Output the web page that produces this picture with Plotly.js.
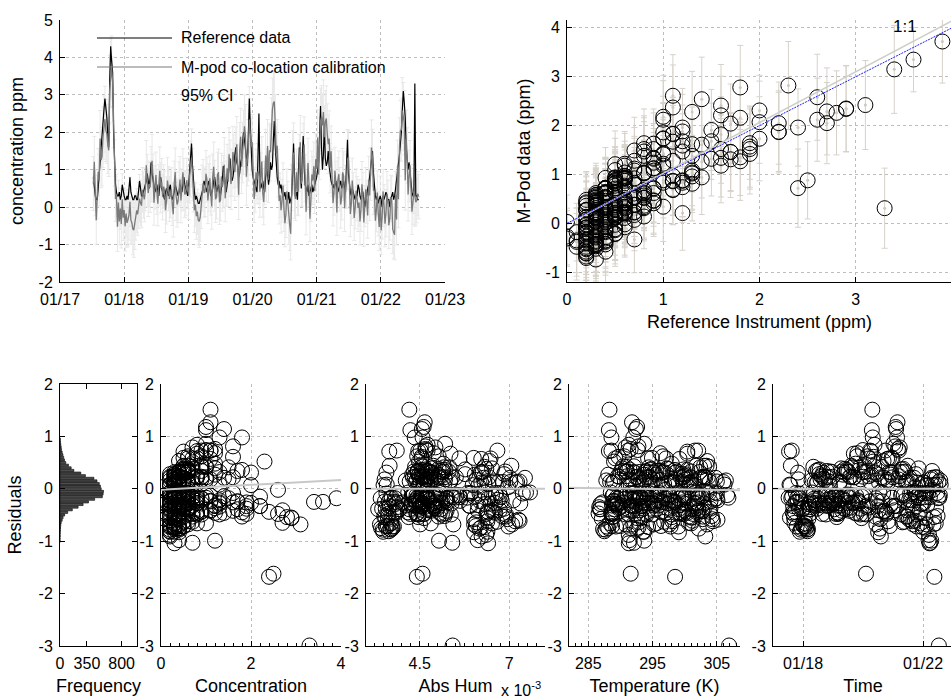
<!DOCTYPE html>
<html><head><meta charset="utf-8">
<script src="https://cdn.plot.ly/plotly-3.0.1.min.js"></script>
<style>html,body{margin:0;padding:0;overflow:hidden;background:#fff;width:951px;height:700px}#chart{width:956px;height:700px}</style>
</head><body><div id="chart"></div>
<script>
// time in days since 01/17 00:00
const timeDays = [
0.520,0.535,0.550,0.565,0.580,0.595,0.610,0.625,0.640,0.655,0.670,0.685,0.700,0.715,0.730,0.745,0.760,0.775,0.790,0.805,
0.820,0.835,0.850,0.865,0.880,0.895,0.910,0.925,0.940,0.955,0.970,0.985,1.000,1.015,1.030,1.045,1.060,1.075,1.090,1.105,
1.120,1.135,1.150,1.165,1.180,1.195,1.210,1.225,1.240,1.255,1.270,1.285,1.300,1.315,1.330,1.345,1.360,1.375,1.390,1.405,
1.420,1.435,1.450,1.465,1.480,1.495,1.510,1.525,1.540,1.555,1.570,1.585,1.600,1.615,1.630,1.645,1.660,1.675,1.690,1.705,
1.720,1.735,1.750,1.765,1.780,1.795,1.810,1.825,1.840,1.855,1.870,1.885,1.900,1.915,1.930,1.945,1.960,1.975,1.990,2.005,
2.020,2.035,2.050,2.065,2.080,2.095,2.110,2.125,2.140,2.155,2.170,2.185,2.200,2.215,2.230,2.245,2.260,2.275,2.290,2.305,
2.320,2.335,2.350,2.365,2.380,2.395,2.410,2.425,2.440,2.455,2.470,2.485,2.500,2.515,2.530,2.545,2.560,2.575,2.590,2.605,
2.620,2.635,2.650,2.665,2.680,2.695,2.710,2.725,2.740,2.755,2.770,2.785,2.800,2.815,2.830,2.845,2.860,2.875,2.890,2.905,
2.920,2.935,2.950,2.965,2.980,2.995,3.010,3.025,3.040,3.055,3.070,3.085,3.100,3.115,3.130,3.145,3.160,3.175,3.190,3.205,
3.220,3.235,3.250,3.265,3.280,3.295,3.310,3.325,3.340,3.355,3.370,3.385,3.400,3.415,3.430,3.445,3.460,3.475,3.490,3.505,
3.520,3.535,3.550,3.565,3.580,3.595,3.610,3.625,3.640,3.655,3.670,3.685,3.700,3.715,3.730,3.745,3.760,3.775,3.790,3.805,
3.820,3.835,3.850,3.865,3.880,3.895,3.910,3.925,3.940,3.955,3.970,3.985,4.000,4.015,4.030,4.045,4.060,4.075,4.090,4.105,
4.120,4.135,4.150,4.165,4.180,4.195,4.210,4.225,4.240,4.255,4.270,4.285,4.300,4.315,4.330,4.345,4.360,4.375,4.390,4.405,
4.420,4.435,4.450,4.465,4.480,4.495,4.510,4.525,4.540,4.555,4.570,4.585,4.600,4.615,4.630,4.645,4.660,4.675,4.690,4.705,
4.720,4.735,4.750,4.765,4.780,4.795,4.810,4.825,4.840,4.855,4.870,4.885,4.900,4.915,4.930,4.945,4.960,4.975,4.990,5.005,
5.020,5.035,5.050,5.065,5.080,5.095,5.110,5.125,5.140,5.155,5.170,5.185,5.200,5.215,5.230,5.245,5.260,5.275,5.290,5.305,
5.320,5.335,5.350,5.365,5.380,5.395,5.410,5.425,5.440,5.455,5.470,5.485,5.500,5.515,5.530,5.545,5.560,5.575,5.590];
const refPpm = [
0.8,0.5,0.3,0.2,0.2,0.5,0.9,1.1,1.4,1.8,2.2,2.6,2.9,2.7,2.4,1.9,1.6,3.4,4.3,3.9,
3.6,2.0,1.0,0.6,0.4,0.3,0.3,0.4,0.2,0.3,0.6,0.4,0.3,0.2,0.2,0.3,0.2,0.5,0.8,0.4,
0.3,0.2,0.2,0.3,0.3,0.2,0.2,0.4,0.7,0.5,0.3,0.3,0.4,0.5,0.6,0.7,0.9,0.6,0.5,0.8,
1.2,0.9,0.7,0.5,0.4,0.5,0.6,0.4,0.3,0.6,0.8,0.5,0.4,0.3,0.2,0.4,0.5,0.4,0.3,0.5,
0.6,0.3,0.2,0.3,0.4,0.6,0.5,0.4,0.3,0.4,0.6,0.5,0.4,0.6,0.8,0.6,0.5,0.4,0.3,0.6,
1.0,1.3,1.7,1.1,0.6,0.4,0.2,0.3,0.2,0.1,0.1,0.2,0.3,0.4,0.5,0.7,0.6,0.5,0.4,0.6,
0.7,0.5,0.3,0.4,0.5,0.7,0.8,0.6,0.4,0.5,0.6,0.4,0.3,0.5,0.7,1.1,0.9,0.6,0.4,0.6,
0.8,1.0,1.3,0.9,0.7,0.8,1.0,1.4,1.6,1.2,1.1,0.8,0.9,1.2,1.3,1.7,2.0,1.8,1.5,1.3,
1.1,1.9,2.9,2.2,1.3,1.0,0.8,0.7,0.6,0.5,0.4,1.3,2.5,0.9,0.5,0.6,0.7,0.5,0.4,0.8,
1.1,0.9,0.6,0.8,1.2,1.0,1.1,1.8,2.3,1.6,1.0,0.8,0.6,0.7,0.5,0.6,0.4,0.3,0.3,0.4,
0.2,0.3,0.2,0.4,0.1,0.2,0.3,0.9,1.7,0.8,0.3,0.4,0.2,0.9,1.6,1.0,0.5,1.2,1.9,1.1,
0.6,0.5,0.4,0.6,0.3,0.4,0.5,0.6,0.4,0.5,0.6,0.7,0.8,1.0,1.2,1.9,2.7,1.6,1.0,1.4,
2.2,1.3,1.1,1.2,1.5,1.1,0.8,0.7,0.6,0.6,0.5,0.6,0.7,0.5,0.4,0.5,0.6,0.7,0.5,0.6,
0.7,0.5,0.4,1.1,1.8,0.9,0.5,0.4,0.3,0.5,0.4,0.3,0.2,0.3,0.3,0.6,0.5,0.3,0.2,0.4,
0.4,0.2,0.0,0.2,0.3,0.5,0.6,0.8,1.0,1.2,1.5,0.9,0.5,0.3,0.2,0.3,0.1,0.2,0.3,0.2,
0.0,0.3,0.2,0.3,0.4,0.3,0.2,0.2,0.0,0.2,0.3,0.4,0.2,0.3,0.5,0.7,0.9,1.2,1.4,1.7,
2.0,2.6,3.1,2.8,2.4,1.6,1.3,1.0,1.2,0.9,0.6,0.4,0.3,0.3,3.3,0.3,0.3,0.2,0.2];
const mpodPpm = [
0.63,1.21,0.38,-0.35,0.27,0.94,0.72,1.83,1.26,1.35,1.87,2.12,2.35,2.05,1.96,1.64,1.52,3.15,3.58,3.72,
3.35,2.31,1.18,0.22,0.31,-0.52,0.12,-0.38,-0.04,-0.45,0.21,-0.28,-0.08,-0.51,-0.17,-0.42,-0.33,-0.21,0.14,-0.35,
-0.42,-0.58,-0.61,-0.47,-0.27,-0.09,-0.19,0.05,0.23,0.11,0.04,0.46,0.33,0.21,0.47,1.12,0.71,0.38,0.62,0.53,
0.88,1.24,0.79,0.12,0.53,0.86,0.41,0.09,0.58,0.97,0.52,0.68,0.27,0.55,0.43,-0.08,0.18,0.71,0.49,0.22,
0.34,0.47,0.08,-0.19,0.63,0.94,0.29,0.07,0.17,0.62,0.74,0.18,0.46,0.93,0.61,0.34,0.37,0.72,0.53,0.31,
0.83,1.02,1.31,0.87,0.48,-0.08,0.07,-0.24,-0.12,-0.35,-0.38,-0.27,0.02,0.51,0.64,0.38,0.41,0.89,0.73,0.18,
0.52,0.77,0.36,0.02,0.81,1.08,0.57,0.21,0.28,0.86,0.93,0.13,0.19,0.82,0.54,0.68,1.13,0.24,0.63,1.04,
0.68,1.41,1.04,0.62,0.92,1.47,1.22,0.94,1.34,1.68,0.97,0.33,1.52,1.88,1.08,1.46,1.73,2.16,1.91,0.81,
1.28,1.52,2.34,2.05,1.62,1.74,1.03,0.22,0.47,0.93,0.72,0.96,0.88,0.41,0.83,1.22,0.38,0.14,0.64,1.38,
0.86,1.63,0.73,1.52,1.47,2.12,2.61,2.78,2.82,2.21,1.43,1.64,0.91,0.17,0.32,-0.08,0.17,0.58,-0.03,-0.43,
-0.21,0.42,0.13,-0.36,-0.48,-0.71,0.52,1.32,1.46,0.36,0.22,0.93,0.41,0.47,1.18,1.73,0.63,0.74,1.42,1.67,
0.77,-0.12,0.53,1.18,0.62,-0.31,0.18,0.87,0.71,1.09,0.43,1.28,1.02,1.86,0.87,1.57,2.29,2.41,2.18,2.54,
1.87,2.28,2.37,1.96,1.68,1.83,1.04,1.49,0.92,0.11,0.38,0.97,0.61,-0.14,0.72,0.88,0.48,0.07,0.27,0.93,
0.83,-0.03,0.54,0.69,1.27,1.34,0.63,-0.18,0.09,0.71,0.31,-0.29,-0.02,0.44,0.23,-0.02,0.12,-0.38,-0.08,0.61,
0.33,-0.41,0.03,0.48,0.14,-0.22,0.72,0.31,0.88,1.59,1.32,0.46,0.42,-0.36,-0.09,0.39,-0.18,-0.53,0.21,-0.62,
-0.27,0.42,0.04,-0.44,-0.16,0.36,0.12,-0.48,-0.31,0.27,0.22,-0.58,-0.68,-0.74,0.34,-0.33,1.08,0.21,1.61,2.04,
2.07,2.58,2.42,2.26,0.72,1.82,1.38,0.34,0.83,1.12,0.52,-0.12,0.12,0.43,0.31,0.13,0.18,0.36,0.28];
const ci95 = [
.72,.68,.61,.64,.58,.63,.69,.75,.74,.78,.81,.85,.88,.83,.79,.74,.70,.90,.92,.85,
.66,.72,.62,.60,.57,.66,.60,.63,.55,.64,.68,.61,.59,.66,.63,.65,.71,.67,.66,.63,
.58,.69,.73,.66,.61,.59,.56,.62,.64,.61,.59,.60,.62,.60,.57,.66,.70,.63,.61,.67,
.74,.70,.63,.60,.58,.61,.60,.59,.55,.64,.67,.62,.61,.58,.54,.60,.63,.62,.59,.60,
.62,.58,.57,.61,.60,.64,.65,.60,.58,.59,.61,.60,.56,.63,.69,.62,.60,.59,.57,.64,
.72,.75,.78,.70,.61,.60,.58,.62,.60,.66,.70,.64,.59,.61,.63,.65,.66,.62,.60,.62,
.64,.60,.57,.61,.61,.66,.68,.62,.59,.61,.62,.59,.56,.62,.65,.70,.73,.63,.60,.64,
.66,.71,.75,.68,.63,.69,.71,.76,.80,.74,.69,.66,.74,.76,.72,.81,.86,.84,.83,.76,
.71,.82,.88,.84,.76,.73,.66,.63,.60,.62,.63,.74,.79,.68,.62,.66,.65,.61,.58,.70,
.70,.71,.61,.68,.77,.80,.84,.86,.90,.80,.73,.70,.64,.62,.59,.61,.57,.60,.62,.63,
.60,.60,.56,.64,.68,.70,.61,.72,.79,.66,.58,.62,.62,.70,.76,.72,.60,.72,.82,.74,
.63,.62,.59,.66,.61,.61,.57,.63,.64,.65,.60,.68,.68,.74,.74,.83,.89,.84,.85,.86,
.84,.83,.87,.80,.78,.74,.66,.68,.63,.61,.59,.63,.62,.62,.60,.62,.58,.63,.61,.64,
.65,.62,.57,.72,.80,.70,.60,.61,.58,.60,.61,.60,.56,.58,.59,.63,.62,.63,.57,.61,
.60,.64,.55,.58,.58,.61,.64,.67,.70,.74,.76,.66,.61,.62,.57,.58,.59,.63,.62,.64,
.58,.59,.56,.62,.63,.59,.60,.63,.57,.58,.61,.66,.69,.67,.62,.68,.71,.76,.78,.81,
.84,.88,.91,.86,.80,.77,.74,.71,.69,.66,.62,.61,.58,.60,.82,.61,.60,.59,.59];
// absolute humidity, in units of 10^-3
const absHum = [
3.72,3.65,3.58,3.54,3.49,3.66,3.81,3.86,3.93,3.78,3.66,3.62,3.61,3.71,3.84,3.87,3.88,3.79,3.74,3.68,
3.63,3.57,3.52,3.55,3.57,3.48,3.41,3.47,3.53,3.42,3.34,3.39,3.45,3.55,3.62,3.57,3.51,3.61,3.69,3.74,
3.78,3.70,3.64,3.68,3.71,3.82,3.92,3.87,3.83,3.94,4.02,4.11,4.18,4.26,4.31,4.37,4.42,4.48,4.53,4.39,
4.27,4.44,4.61,4.49,4.38,4.55,4.72,4.61,4.49,4.66,4.83,4.71,4.58,4.47,4.36,4.63,4.91,4.79,4.67,4.59,
4.52,4.42,4.33,4.48,4.63,4.71,4.79,4.58,4.41,4.31,4.22,4.36,4.47,4.58,4.69,4.49,4.32,4.44,4.56,4.49,
4.43,4.32,4.21,4.38,4.54,4.41,4.28,4.19,4.12,4.17,4.24,4.41,4.59,4.72,4.81,4.93,5.02,4.84,4.68,4.81,
4.93,5.02,5.11,4.97,4.84,5.03,5.23,5.09,4.97,5.14,5.31,5.08,4.89,5.16,5.42,5.25,5.08,4.91,4.73,4.88,
5.04,5.17,5.28,5.39,5.51,5.36,5.19,5.06,4.94,5.16,5.37,5.21,5.03,4.89,4.77,4.96,5.13,5.22,5.33,5.12,
4.92,4.77,4.62,4.72,4.83,4.67,4.51,4.61,4.71,4.57,4.44,4.52,4.58,4.46,4.34,4.43,4.52,4.61,4.69,4.55,
4.41,4.52,4.63,4.46,4.29,4.24,4.21,4.36,4.48,4.55,4.61,4.72,4.82,5.03,5.24,5.44,5.63,5.77,5.91,6.02,
6.12,6.22,6.31,6.17,6.02,6.23,6.43,6.31,6.19,6.41,6.62,6.45,6.28,6.39,6.51,6.67,6.83,6.61,6.37,6.22,
6.08,6.39,6.71,6.48,6.26,6.07,5.88,6.04,6.22,6.01,5.82,5.61,5.41,5.21,5.02,4.86,4.73,4.66,4.61,4.56,
4.52,4.58,4.64,4.66,4.68,4.72,4.79,4.94,5.12,5.37,5.61,5.77,5.93,6.08,6.21,6.36,6.52,6.66,6.79,6.89,
7.03,6.81,6.58,6.74,6.91,7.06,7.22,6.96,6.68,7.02,7.38,7.26,7.12,7.29,7.47,7.17,6.86,7.08,7.31,7.44,
7.58,7.29,6.97,6.86,6.77,6.98,7.18,6.91,6.63,6.52,6.42,6.57,6.72,6.52,6.33,6.41,6.48,6.32,6.17,6.39,
6.61,6.31,6.03,6.21,6.39,6.14,5.92,6.02,6.13,5.98,5.84,6.12,6.36,6.41,5.62,5.41,5.21,5.04,4.88,4.73,
4.62,4.57,4.51,4.46,4.42,4.58,4.72,4.81,4.91,5.02,5.08,5.19,5.27,5.35,5.42,5.48,5.53,5.36,5.18];
const tempK = [
300.0,300.4,300.8,301.2,301.5,301.8,302.0,302.1,302.2,301.9,301.6,301.3,301.0,300.6,300.2,299.6,299.0,298.4,297.8,297.1,
296.5,295.9,295.2,294.6,294.0,293.5,293.0,292.5,292.1,291.6,291.2,290.8,290.4,290.0,289.7,289.3,289.0,288.7,288.4,288.1,
287.9,287.7,287.5,287.3,287.1,286.9,286.8,286.7,286.6,286.9,287.2,287.8,288.5,289.2,290.0,290.9,291.8,292.6,293.5,294.3,
295.2,296.0,296.8,297.4,298.0,298.5,299.0,299.3,299.6,299.8,300.0,300.1,300.2,300.0,299.8,299.4,299.0,298.5,298.0,297.4,
296.8,296.2,295.6,295.0,294.5,294.0,293.6,293.2,292.8,292.4,292.0,291.6,291.3,291.0,290.7,290.4,290.2,290.0,289.8,289.6,
289.4,289.2,289.1,289.0,288.9,288.8,288.8,288.7,288.7,288.6,288.6,288.6,288.7,288.8,289.0,289.3,289.6,290.3,291.0,291.9,
292.8,293.7,294.6,295.6,296.5,297.4,298.2,299.0,299.8,300.4,301.0,301.5,302.0,302.3,302.6,302.8,303.0,303.1,303.1,303.0,
302.8,302.4,302.0,301.5,301.0,300.4,299.8,299.2,298.6,298.0,297.5,297.0,296.6,296.2,295.8,295.4,295.0,294.7,294.4,294.1,
293.8,293.5,293.3,293.1,292.9,292.7,292.6,292.4,292.3,292.1,292.0,291.8,291.6,291.3,291.0,290.6,290.3,289.9,289.6,289.2,
288.9,288.6,288.4,288.2,288.1,288.2,288.3,288.6,289.0,289.7,290.4,291.3,292.2,293.2,294.2,295.2,296.2,297.2,298.2,299.1,
300.0,300.8,301.6,302.2,302.8,303.2,303.6,303.8,304.0,303.9,303.8,303.5,303.2,302.7,302.2,301.6,301.0,300.4,299.8,299.2,
298.6,298.1,297.6,297.1,296.7,296.3,295.9,295.5,295.2,294.9,294.6,294.3,294.0,293.7,293.5,293.2,293.0,292.8,292.6,292.4,
292.2,292.0,291.8,291.6,291.4,291.2,291.0,290.8,290.7,290.8,290.9,291.4,292.0,292.9,293.8,294.8,295.8,296.8,297.8,298.8,
299.7,300.6,301.4,302.1,302.8,303.4,303.9,304.3,304.6,304.8,305.0,305.1,305.1,305.0,304.8,304.4,304.0,303.5,303.0,302.4,
301.8,301.2,300.6,300.0,299.5,299.0,298.5,298.0,297.6,297.2,296.8,296.4,296.0,295.6,295.3,294.9,294.6,294.3,294.0,293.7,
293.5,293.2,293.0,292.8,292.6,292.4,292.2,292.0,291.8,291.6,291.5,291.4,291.3,291.3,291.4,292.1,292.8,293.7,294.6,295.6,
296.5,297.0,297.6,298.0,298.5,299.4,300.2,301.0,301.8,302.6,303.4,304.2,305.0,306.0,306.9,306.8,306.6,306.4,306.2];
// residual histogram
const histBins = [-1.00,-0.95,-0.90,-0.85,-0.80,-0.75,-0.70,-0.65,-0.60,-0.55,-0.50,-0.45,-0.40,-0.35,-0.30,-0.25,-0.20,-0.15,-0.10,-0.05,0.00,0.05,0.10,0.15,0.20,0.25,0.30,0.35,0.40,0.45,0.50,0.55,0.60,0.65,0.70,0.75,0.80,0.85,0.90,0.95];
const histCounts = [1,1,2,3,5,7,10,15,28,40,60,100,160,235,300,370,450,550,560,565,535,525,510,480,440,330,270,180,145,110,75,58,48,38,28,20,15,10,6,3];
// reference / fitted lines
const oneToOneX = [0, 4.2];
const oneToOneY = [-0.02, 4.35];
const fitScatterX = [0, 4.2];
const fitScatterY = [0, 4.2];
const fitConcX = [0, 4];
const fitConcY = [-0.02, 0.17];
const fitHumX = [3, 8];
const fitHumY = [0, 0];
const fitTempX = [282, 308.6];
const fitTempY = [0.02, -0.03];
const fitTimeX = [0, 6];
const fitTimeY = [0, 0];
// tick labels
const dayTickVals = [0, 1, 2, 3, 4, 5, 6];
const dayTickText = ['01/17', '01/18', '01/19', '01/20', '01/21', '01/22', '01/23'];
const resTickVals = [-3, -2, -1, 0, 1, 2];
const resTickText = ['-3', '-2', '-1', '0', '1', '2'];
const concTickVals = [-2, -1, 0, 1, 2, 3, 4, 5];
const concTickText = ['-2', '-1', '0', '1', '2', '3', '4', '5'];
const podTickVals = [-1, 0, 1, 2, 3, 4];
const podTickText = ['-1', '0', '1', '2', '3', '4'];

const residuals = mpodPpm.map((m, i) => m - refPpm[i]);

const W = 956, H = 700;
const dx = (a, b) => [a / W, b / W];
const dy = (top, bottom) => [1 - bottom / H, 1 - top / H];
const FONT = 'Liberation Sans, Arial, Helvetica, sans-serif';
const GRID = '#bdbdbd';
function ax(extra) {
  return Object.assign({
    showline: true, linecolor: '#000', linewidth: 1, mirror: false,
    ticks: 'inside', ticklen: 5, tickcolor: '#000', tickwidth: 1,
    showgrid: true, gridcolor: GRID, griddash: 'dot', gridwidth: 1,
    zeroline: false, tickfont: {size: 16, color: '#000'}, ticklabelstandoff: 3,
    fixedrange: true
  }, extra);
}
const titleFont = {size: 18, color: '#000'};
const circle = {symbol: 'circle-open', size: 15, color: '#000', line: {width: 1, color: '#000'}};

const traces = [
  // top-left: time series with CI
  {x: timeDays, y: mpodPpm, xaxis: 'x', yaxis: 'y', mode: 'markers', type: 'scatter',
   marker: {size: 2, color: '#e6e6e6'},
   error_y: {type: 'data', array: ci95, visible: true, color: '#e8e8e8', thickness: 1, width: 2}},
  {x: timeDays, y: refPpm, xaxis: 'x', yaxis: 'y', mode: 'lines', type: 'scatter', line: {color: '#000', width: 1.2}},
  {x: timeDays, y: mpodPpm, xaxis: 'x', yaxis: 'y', mode: 'lines', type: 'scatter', line: {color: '#7a7a7a', width: 1.3}},
  // top-right: M-pod vs reference
  {x: refPpm, y: mpodPpm, xaxis: 'x2', yaxis: 'y2', mode: 'markers', type: 'scatter',
   marker: {size: 3, color: '#cdc8bf'},
   error_y: {type: 'data', array: ci95, visible: true, color: '#d6d2c9', thickness: 1, width: 3}},
  {x: refPpm, y: mpodPpm, xaxis: 'x2', yaxis: 'y2', mode: 'markers', type: 'scatter', marker: circle},
  {x: oneToOneX, y: oneToOneY, xaxis: 'x2', yaxis: 'y2', mode: 'lines', type: 'scatter', line: {color: '#cfcfc8', width: 1.5}},
  {x: fitScatterX, y: fitScatterY, xaxis: 'x2', yaxis: 'y2', mode: 'lines', type: 'scatter', line: {color: '#2020ff', width: 1, dash: '2px,1px'}},
  // histogram of residuals
  {x: histCounts, y: histBins, xaxis: 'x3', yaxis: 'y3', type: 'bar', orientation: 'h',
   marker: {color: '#4d4d4d', line: {color: '#000', width: 0.6}}},
  // residual panels
  {x: refPpm, y: residuals, xaxis: 'x4', yaxis: 'y4', mode: 'markers', type: 'scatter', marker: circle},
  {x: fitConcX, y: fitConcY, xaxis: 'x4', yaxis: 'y4', mode: 'lines', type: 'scatter', line: {color: '#c8c8c8', width: 2}},
  {x: absHum, y: residuals, xaxis: 'x5', yaxis: 'y5', mode: 'markers', type: 'scatter', marker: circle},
  {x: fitHumX, y: fitHumY, xaxis: 'x5', yaxis: 'y5', mode: 'lines', type: 'scatter', line: {color: '#c8c8c8', width: 2}},
  {x: tempK, y: residuals, xaxis: 'x6', yaxis: 'y6', mode: 'markers', type: 'scatter', marker: circle},
  {x: fitTempX, y: fitTempY, xaxis: 'x6', yaxis: 'y6', mode: 'lines', type: 'scatter', line: {color: '#c8c8c8', width: 2}},
  {x: timeDays, y: residuals, xaxis: 'x7', yaxis: 'y7', mode: 'markers', type: 'scatter', marker: circle},
  {x: fitTimeX, y: fitTimeY, xaxis: 'x7', yaxis: 'y7', mode: 'lines', type: 'scatter', line: {color: '#c8c8c8', width: 2}}
];

const botY = dy(384, 646);
const resY = (anchor) => ax({domain: botY, range: [-3, 2], tickvals: resTickVals, ticktext: resTickText, anchor: anchor});
const minorX = (t0, d) => ({ticks: 'inside', ticklen: 3, tickcolor: '#000', tick0: t0, dtick: d, showgrid: false});
const layout = {
  width: W, height: H, margin: {l: 0, r: 0, t: 0, b: 0},
  paper_bgcolor: '#fff', plot_bgcolor: '#fff', showlegend: false,
  font: {family: FONT, color: '#000', size: 16},
  bargap: 0.18,
  xaxis: ax({domain: dx(60, 445), range: [0, 6], tickvals: dayTickVals, ticktext: dayTickText, anchor: 'y'}),
  yaxis: ax({domain: dy(20, 282), range: [-2, 5], tickvals: concTickVals, ticktext: concTickText, anchor: 'x',
    title: {text: 'concentration ppm', font: titleFont, standoff: 10}}),
  xaxis2: ax({domain: dx(567, 952), range: [0, 4], dtick: 1, anchor: 'y2',
    title: {text: 'Reference Instrument (ppm)', font: titleFont, standoff: 8}}),
  yaxis2: ax({domain: dy(20, 282), range: [-1.2, 4.16], tickvals: podTickVals, ticktext: podTickText, anchor: 'x2',
    title: {text: 'M-Pod data (ppm)', font: titleFont, standoff: 10}}),
  xaxis3: ax({domain: dx(60, 137), range: [0, 1000], tickvals: [0, 350, 800], mirror: 'ticks', showgrid: false, anchor: 'y3',
    title: {text: 'Frequency', font: titleFont, standoff: 8}}),
  yaxis3: Object.assign(resY('x3'), {mirror: 'ticks', showgrid: false,
    title: {text: 'Residuals', font: titleFont, standoff: 12}}),
  xaxis4: ax({domain: dx(161, 341), range: [0, 4], dtick: 2, anchor: 'y4', minor: minorX(0, 0.2),
    title: {text: 'Concentration', font: titleFont, standoff: 8}}),
  yaxis4: resY('x4'),
  xaxis5: ax({domain: dx(366, 545), range: [3, 8], tickvals: [4.5, 7], anchor: 'y5', minor: minorX(3, 0.25),
    title: {text: 'Abs Hum', font: titleFont, standoff: 8}}),
  yaxis5: resY('x5'),
  xaxis6: ax({domain: dx(569, 740), range: [282, 308.6], tickvals: [285, 295, 305], anchor: 'y6', minor: minorX(285, 1),
    title: {text: 'Temperature (K)', font: titleFont, standoff: 8}}),
  yaxis6: resY('x6'),
  xaxis7: ax({domain: dx(773, 953), range: [0, 6], tickvals: [1, 5], ticktext: ['01/18', '01/22'], anchor: 'y7',
    title: {text: 'Time', font: titleFont, standoff: 8}}),
  yaxis7: resY('x7'),
  shapes: [
    {type: 'line', xref: 'paper', yref: 'paper', x0: 97 / W, x1: 172 / W, y0: 1 - 38 / H, y1: 1 - 38 / H, line: {color: '#000', width: 1.2}},
    {type: 'line', xref: 'paper', yref: 'paper', x0: 97 / W, x1: 172 / W, y0: 1 - 67 / H, y1: 1 - 67 / H, line: {color: '#7a7a7a', width: 1.2}}
  ],
  annotations: [
    {xref: 'paper', yref: 'paper', x: 179 / W, y: 1 - 38 / H, xanchor: 'left', yanchor: 'middle', showarrow: false, text: 'Reference data', font: {size: 16}},
    {xref: 'paper', yref: 'paper', x: 179 / W, y: 1 - 67 / H, xanchor: 'left', yanchor: 'middle', showarrow: false, text: 'M-pod co-location calibration', font: {size: 16}},
    {xref: 'paper', yref: 'paper', x: 179 / W, y: 1 - 96 / H, xanchor: 'left', yanchor: 'middle', showarrow: false, text: '95% CI', font: {size: 16}},
    {xref: 'paper', yref: 'paper', x: 905 / W, y: 1 - 26 / H, xanchor: 'center', yanchor: 'middle', showarrow: false, text: '1:1', font: {size: 17}},
    {xref: 'paper', yref: 'paper', x: 499 / W, y: 1 - 689 / H, xanchor: 'left', yanchor: 'middle', showarrow: false, text: 'x 10<sup>-3</sup>', font: {size: 16}}
  ]
};

Plotly.newPlot('chart', traces, layout, {staticPlot: true, displayModeBar: false});
</script>
</body></html>
